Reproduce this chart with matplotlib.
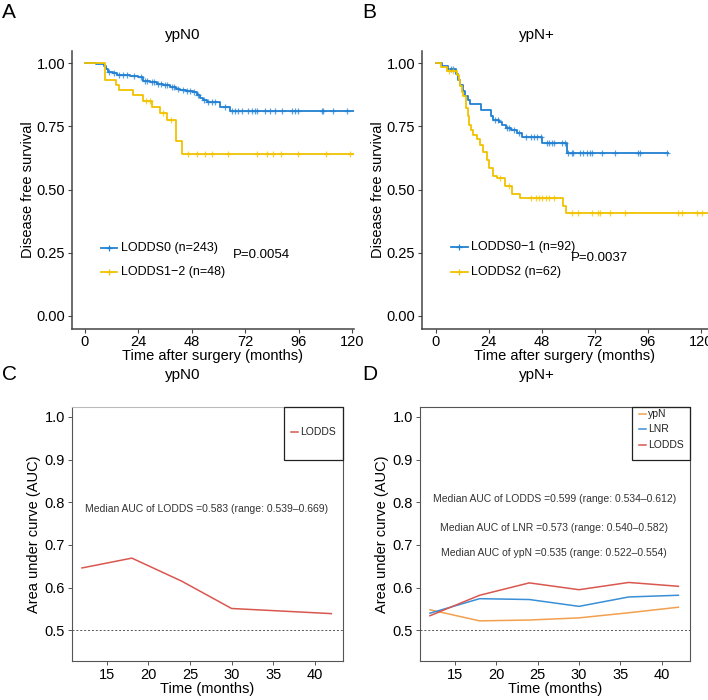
import numpy as np
import matplotlib
matplotlib.use("Agg")
import matplotlib.pyplot as plt
from matplotlib.patches import Rectangle

plt.rcParams['font.family'] = ['Liberation Sans', 'DejaVu Sans']

# ---------------- data ----------------
km_xticks = [0, 24, 48, 72, 96, 120]
km_yticks = [0.00, 0.25, 0.50, 0.75, 1.00]

# Panel A (ypN0)
a_blue_t = [0, 5.0, 8.5, 9.5, 10.5, 12.5, 14.2, 20.2, 24.0, 26.2, 29.0, 32.2, 35.0, 38.2,
            41.0, 42.7, 45.5, 48.5, 50.2, 51.7, 53.2, 54.8, 60.5, 65.2, 125]
a_blue_s = [1.0, 0.996, 0.988, 0.975, 0.966, 0.960, 0.955, 0.951, 0.945, 0.930, 0.925, 0.918,
            0.912, 0.904, 0.897, 0.892, 0.888, 0.884, 0.874, 0.862, 0.855, 0.845, 0.828, 0.810, 0.810]
a_blue_cens = [11, 13, 15.5, 17, 19, 22, 25, 27, 28, 30, 31, 33, 34, 36, 37, 39, 40, 42, 44, 46, 47,
               49, 51, 53.5, 55.5, 57, 58.5, 63, 65.9, 67.4, 68.9, 70.4, 73.4, 74.9, 76.4, 77.2,
               80.9, 83.1, 85.4, 88.4, 92.9, 94.4, 95.9, 106.4, 107.1, 111.6, 117.6]
a_yel_t = [0, 9.0, 14.0, 15.5, 21.5, 26.2, 30.0, 33.7, 36.7, 41.0, 43.5, 125]
a_yel_s = [1.0, 0.935, 0.913, 0.893, 0.872, 0.851, 0.828, 0.802, 0.776, 0.690, 0.640, 0.640]
a_yel_cens = [27.5, 29, 35, 38.5, 46.4, 50.2, 53.9, 57, 64.4, 77.5, 81.7, 84.6, 88, 95.9, 108.2, 119]
a_labels = ["LODDS0 (n=243)", "LODDS1\u22122 (n=48)"]
a_title = "ypN0"
a_p = "P=0.0054"

# Panel B (ypN+)
b_blue_t = [0, 3.0, 5.5, 9.3, 10.0, 11.0, 12.2, 13.3, 14.5, 15.5, 20.5, 25.0, 25.8, 28.5, 30.0,
            31.8, 34.0, 36.7, 39.0, 48.2, 59.5, 105]
b_blue_s = [1.0, 0.989, 0.978, 0.956, 0.934, 0.912, 0.890, 0.868, 0.855, 0.838, 0.815, 0.790,
            0.776, 0.766, 0.755, 0.743, 0.736, 0.723, 0.706, 0.683, 0.644, 0.644]
b_blue_cens = [7, 8, 27, 28, 32.5, 33, 35.5, 37.5, 41, 43, 44.5, 46, 47.5, 50.4, 51.5, 52.5, 53.6,
               57, 58.6, 60.1, 61.6, 62.3, 65.4, 66.8, 68.4, 69.9, 70.7, 75.2, 81.2, 91.8, 92.5, 104.6]
b_yel_t = [0, 2.5, 5.0, 9.8, 10.5, 11.0, 11.8, 12.5, 13.7, 14.5, 15.3, 16.0, 16.7, 18.8, 20.1,
           21.6, 23.1, 24.3, 26.1, 27.6, 31.4, 34.4, 38.2, 57.8, 58.9, 125]
b_yel_s = [1.0, 0.984, 0.968, 0.952, 0.935, 0.908, 0.887, 0.868, 0.822, 0.790, 0.755, 0.736,
           0.716, 0.700, 0.677, 0.650, 0.617, 0.584, 0.555, 0.544, 0.514, 0.484, 0.465, 0.435,
           0.406, 0.406]
b_yel_cens = [6, 8, 29, 33, 43, 45.3, 46.8, 48.3, 49.8, 51.3, 53.6, 61.6, 64.6, 70.7, 73.6, 74.4,
              78.9, 85.7, 109.9, 111.4, 118.2, 120.5]
b_labels = ["LODDS0\u22121 (n=92)", "LODDS2 (n=62)"]
b_title = "ypN+"
b_p = "P=0.0037"

# Panels C / D (time-dependent AUC)
auc_time = [12, 18, 24, 30, 36, 42]
auc_xticks = [15, 20, 25, 30, 35, 40]
auc_yticks = [0.5, 0.6, 0.7, 0.8, 0.9, 1.0]
c_lodds = [0.646, 0.669, 0.615, 0.551, 0.545, 0.539]
d_ypn = [0.548, 0.522, 0.524, 0.529, 0.541, 0.554]
d_lnr = [0.540, 0.574, 0.572, 0.556, 0.578, 0.582]
d_lodds = [0.534, 0.582, 0.611, 0.595, 0.612, 0.603]
c_text = ["Median AUC of LODDS =0.583 (range: 0.539\u20130.669)"]
d_text = ["Median AUC of LODDS =0.599 (range: 0.534\u20130.612)",
          "Median AUC of LNR =0.573 (range: 0.540\u20130.582)",
          "Median AUC of ypN =0.535 (range: 0.522\u20130.554)"]

BLUE = "#2280d2"
YEL = "#f2c200"
RED = "#d9574f"
ORANGE = "#f3a04e"
LBLUE = "#3a8fd6"

W, H = 708, 700
fig = plt.figure(figsize=(W / 100, H / 100), dpi=100)


def box(l, r, t, b):
    return [l / W, 1 - b / H, (r - l) / W, (b - t) / H]


def step_val(ts, ss, c):
    idx = np.searchsorted(np.asarray(ts), np.asarray(c), side='right') - 1
    return np.asarray(ss)[idx]


def km_panel(rect, xlim, curves, labels, pxy, ptext, leg_y):
    ax = fig.add_axes(rect)
    for (t, s, cens, col) in curves:
        ax.step(t, s, where='post', color=col, lw=1.3, clip_on=True)
        ax.plot(cens, step_val(t, s, cens), ls='none', marker='+', ms=4.5, mew=0.9,
                color=col, alpha=0.75)
    ax.set_xlim(*xlim)
    ax.set_ylim(-0.05, 1.05)
    ax.set_xticks(km_xticks)
    ax.set_yticks(km_yticks)
    ax.set_yticklabels([f"{v:.2f}" for v in km_yticks])
    for sp in ['top', 'right']:
        ax.spines[sp].set_visible(False)
    for sp in ['left', 'bottom']:
        ax.spines[sp].set_color('#444444')
        ax.spines[sp].set_linewidth(1.1)
    ax.tick_params(axis='both', length=3, width=0.8, color='#444444', labelsize=10.5,
                   pad=2)
    ax.set_xlabel("Time after surgery (months)", fontsize=10.5, labelpad=0)
    ax.set_ylabel("Disease free survival", fontsize=10.5, labelpad=1)
    # legend
    for (t, s, cens, col), lab, ly in zip(curves, labels, leg_y):
        ax.plot([7.0, 14.5], [ly, ly], color=col, lw=1.3)
        ax.plot([10.75], [ly], marker='+', ms=4.5, mew=0.9, color=col)
        ax.text(16.0, ly, lab, fontsize=9, va='center', ha='left')
    ax.text(pxy[0], pxy[1], ptext, fontsize=9.5, va='center', ha='left')
    return ax


km_panel(box(72, 354, 50.5, 328.5), (-5.84, 120.9),
         [(a_blue_t, a_blue_s, a_blue_cens, BLUE), (a_yel_t, a_yel_s, a_yel_cens, YEL)],
         a_labels, (66.5, 0.241), a_p, [0.269, 0.174])
km_panel(box(422, 708, 50.5, 328.5), (-6.2, 123.3),
         [(b_blue_t, b_blue_s, b_blue_cens, BLUE), (b_yel_t, b_yel_s, b_yel_cens, YEL)],
         b_labels, (61.1, 0.229), b_p, [0.272, 0.173])

fig.text(183 / W, 1 - 35 / H, a_title, fontsize=11, ha='center', va='center')
fig.text(537 / W, 1 - 35 / H, b_title, fontsize=11, ha='center', va='center')
fig.text(183 / W, 1 - 375 / H, a_title, fontsize=11, ha='center', va='center')
fig.text(537 / W, 1 - 375 / H, b_title, fontsize=11, ha='center', va='center')
for lab, x, y in [("A", 2, 12), ("B", 362, 12), ("C", 2, 375), ("D", 362, 375)]:
    fig.text(x / W, 1 - y / H, lab, fontsize=15, ha='left', va='center')


def auc_panel(rect, series, texts, text_y, leg_x0, leg_rows, light_top=False):
    ax = fig.add_axes(rect)
    ax.axhline(0.5, color='#555555', lw=0.7, ls=(0, (2, 2)))
    for (vals, col, lab) in series:
        ax.plot(auc_time, vals, color=col, lw=1.1)
    ax.set_xlim(10.8, 43.4)
    ax.set_ylim(0.428, 1.023)
    ax.set_xticks(auc_xticks)
    ax.set_yticks(auc_yticks)
    ax.set_yticklabels([f"{v:.1f}" for v in auc_yticks])
    for sp in ax.spines.values():
        sp.set_color('#555555')
        sp.set_linewidth(0.8)
    if light_top:
        ax.spines['top'].set_color('#bbbbbb')
    ax.tick_params(axis='both', length=3, width=0.7, color='#555555', labelsize=10.5, pad=2)
    ax.set_xlabel("Time (months)", fontsize=10.5, labelpad=0)
    ax.set_ylabel("Area under curve (AUC)", fontsize=10.5, labelpad=3)
    for txt, ty in zip(texts, text_y):
        ax.text(27.0, ty, txt, fontsize=7.5, color='#333333', ha='center', va='center')
    # legend box
    ax.add_patch(Rectangle((leg_x0, 0.791), 1.0 - leg_x0, 0.209, transform=ax.transAxes,
                           fill=False, ec='#222222', lw=0.9, clip_on=False, zorder=5))
    for (vals, col, lab), ry in zip(series, leg_rows):
        ax.plot([leg_x0 + 0.025, leg_x0 + 0.052], [ry, ry], color=col, lw=1.1,
                transform=ax.transAxes, clip_on=False)
        ax.text(leg_x0 + 0.06, ry, lab, fontsize=7.5, color='#222222', va='center', ha='left',
                transform=ax.transAxes)
    return ax


auc_panel(box(72, 343, 407, 661), [(c_lodds, RED, "LODDS")], c_text, [0.783],
          0.782, [0.90], light_top=True)
auc_panel(box(420, 690, 407, 661),
          [(d_ypn, ORANGE, "ypN"), (d_lnr, LBLUE, "LNR"), (d_lodds, RED, "LODDS")],
          d_text, [0.807, 0.740, 0.680], 0.785, [0.972, 0.912, 0.850])

fig.savefig("out.png", dpi=100)
